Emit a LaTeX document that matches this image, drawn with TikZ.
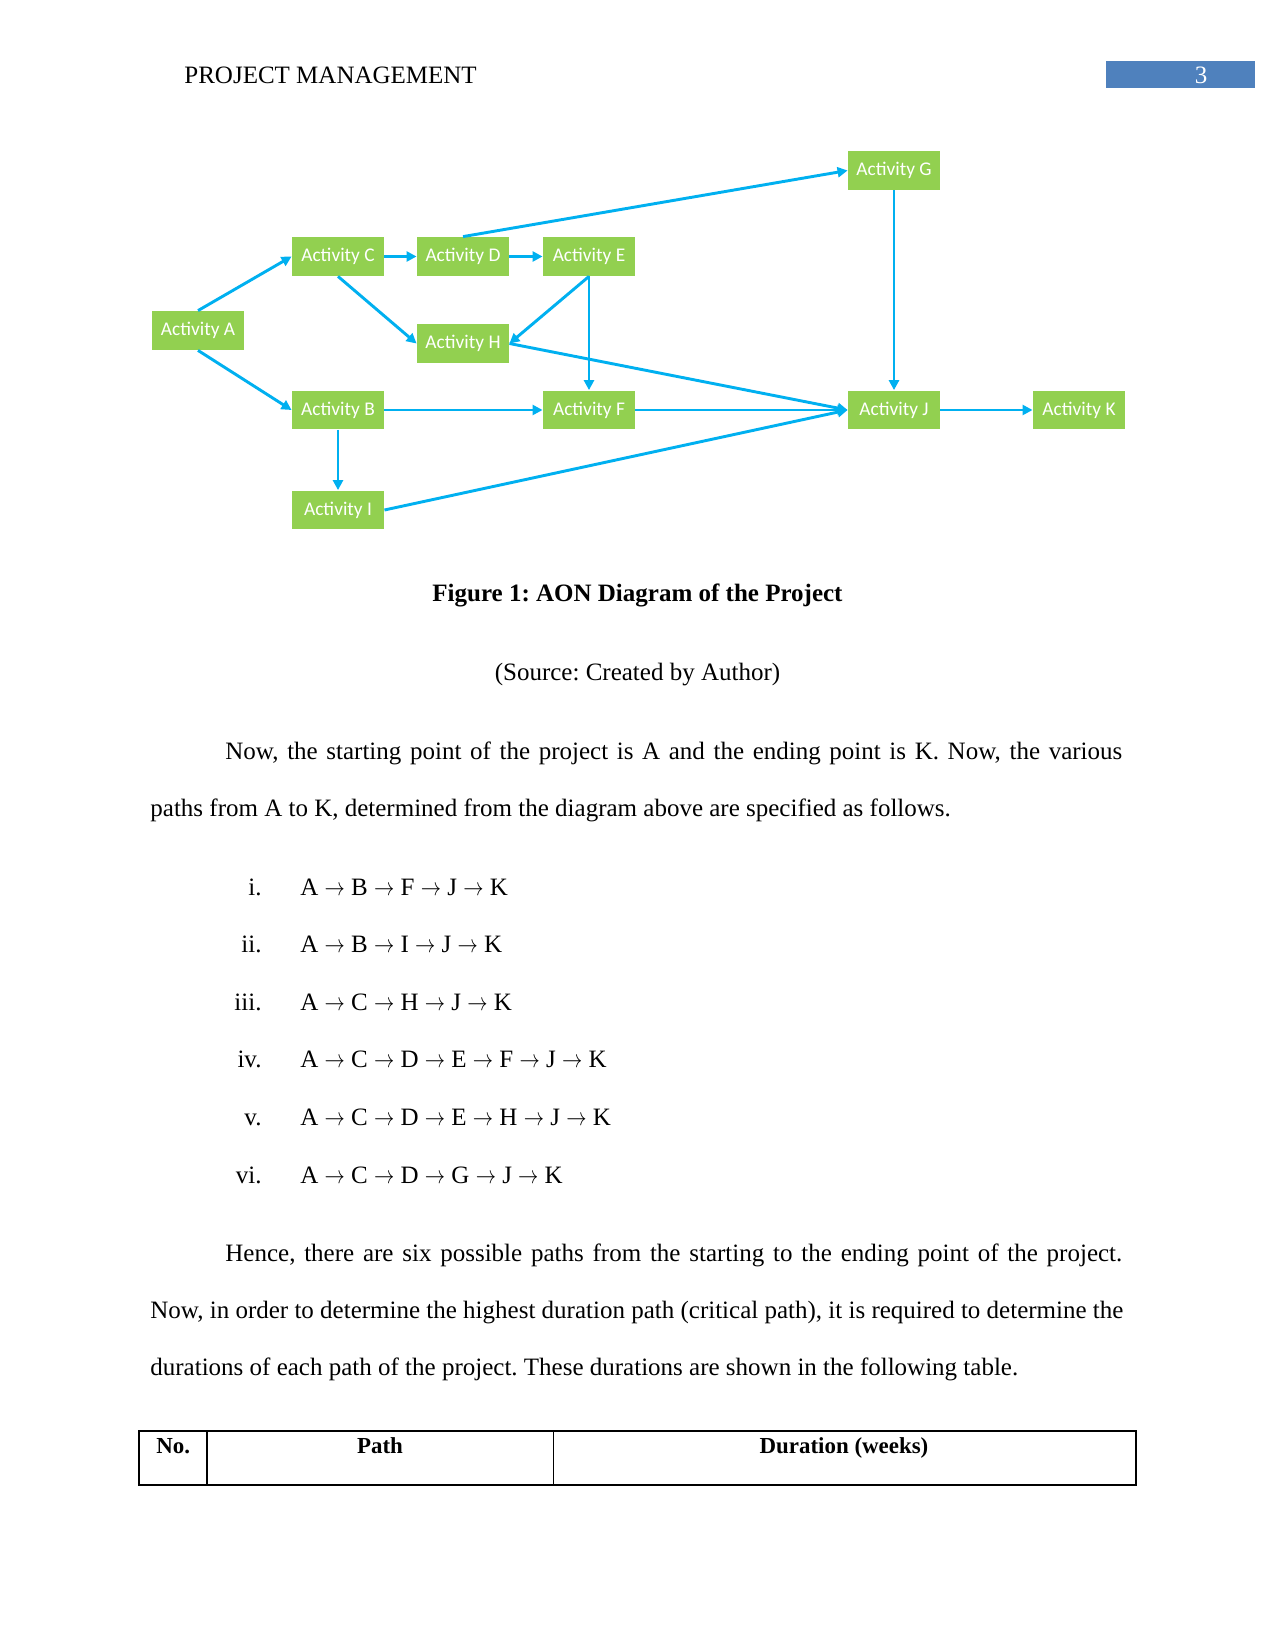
\documentclass[tikz,border=0pt]{standalone}
\usepackage{graphicx}
\usepackage{fontspec}
\setmainfont{Liberation Serif}
\newfontfamily\nodefont{Carlito}
\usetikzlibrary{arrows.meta}
\definecolor{actgreen}{HTML}{92D050}
\definecolor{arrowblue}{HTML}{00B0F0}
\definecolor{headerblue}{HTML}{4F81BD}
\newcommand{\parr}{\scalebox{0.81}[1]{$\rightarrow$}}
\frenchspacing
\begin{document}
\begin{tikzpicture}[x=0.48pt,y=-0.48pt,
  act/.style={fill=actgreen, draw=none, minimum width=44.2pt, minimum height=18.7pt, inner sep=0pt,
    font=\nodefont\fontsize{9.3}{11}\selectfont, text=white},
  conn/.style={draw=arrowblue, line width=1.4pt, -{Triangle[length=4.8pt,width=4.8pt]}},
  txt/.style={anchor=base west, inner sep=0pt, font=\fontsize{12}{14}\selectfont},
  lbl/.style={anchor=base east, inner sep=0pt, font=\fontsize{12}{14}\selectfont},
  ctxt/.style={anchor=base, inner sep=0pt, font=\fontsize{12}{14}\selectfont},
  thd/.style={anchor=base, inner sep=0pt, font=\fontsize{11}{13}\selectfont\bfseries}]
\useasboundingbox (0,0) rectangle (1275,1651);
\fill[white] (0,0) rectangle (1275,1651);

% header
\node[txt] (hdr) at (184,84) {PROJECT MANAGEMENT};
\fill[headerblue] (1105.5,61) rectangle (1255,88.5);
\node[ctxt, text=white] (pg) at (1201,84) {3};

% activity nodes
\node[act] (A) at (198,330.5) {Activity A};
\node[act] (C) at (338,256.5) {Activity C};
\node[act] (D) at (463,256.5) {Activity D};
\node[act] (E) at (589,256.5) {Activity E};
\node[act] (H) at (463,343.5) {Activity H};
\node[act] (B) at (338,410) {Activity B};
\node[act] (F) at (589,410) {Activity F};
\node[act] (I) at (338,510) {Activity I};
\node[act] (G) at (894,170.5) {Activity G};
\node[act] (J) at (894,410) {Activity J};
\node[act] (K) at (1079,410) {Activity K};

% connectors
\draw[conn] (A.north) -- (C.west);
\draw[conn] (A.south) -- (B.west);
\draw[conn] (C.east) -- (D.west);
\draw[conn] (D.east) -- (E.west);
\draw[conn] (C.south) -- (H.west);
\draw[conn] (E.south) -- (H.east);
\draw[conn] (E.south) -- (F.north);
\draw[conn] (D.north) -- (G.west);
\draw[conn] (H.east) -- (J.west);
\draw[conn] (B.east) -- (F.west);
\draw[conn] (F.east) -- (J.west);
\draw[conn] (I.east) -- (J.west);
\draw[conn] (B.south) -- (I.north);
\draw[conn] (G.south) -- (J.north);
\draw[conn] (J.east) -- (K.west);

% caption
\node[ctxt, font=\fontsize{12}{14}\selectfont\bfseries] (cap) at (637.5,601) {Figure 1: AON Diagram of the Project};
\node[ctxt] (src) at (637.5,680) {(Source: Created by Author)};

% paragraph 1
\node[txt] (p1a) at (225,759) {\makebox[430.5pt][s]{Now, the starting point of the project is A and the ending point is K. Now, the various}};
\node[txt] (p1b) at (150,816) {paths from A to K, determined from the diagram above are specified as follows.};

% list
\node[lbl] (l1) at (262,895) {i.};
\node[txt] (t1) at (300,895) {A \parr{} B \parr{} F \parr{} J \parr{} K};
\node[lbl] (l2) at (262,952.5) {ii.};
\node[txt] (t2) at (300,952.5) {A \parr{} B \parr{} I \parr{} J \parr{} K};
\node[lbl] (l3) at (262,1010) {iii.};
\node[txt] (t3) at (300,1010) {A \parr{} C \parr{} H \parr{} J \parr{} K};
\node[lbl] (l4) at (262,1067.5) {iv.};
\node[txt] (t4) at (300,1067.5) {A \parr{} C \parr{} D \parr{} E \parr{} F \parr{} J \parr{} K};
\node[lbl] (l5) at (262,1125.5) {v.};
\node[txt] (t5) at (300,1125.5) {A \parr{} C \parr{} D \parr{} E \parr{} H \parr{} J \parr{} K};
\node[lbl] (l6) at (262,1183) {vi.};
\node[txt] (t6) at (300,1183) {A \parr{} C \parr{} D \parr{} G \parr{} J \parr{} K};

% paragraph 2
\node[txt] (p2a) at (225,1261) {\makebox[430.5pt][s]{Hence, there are six possible paths from the starting to the ending point of the project.}};
\node[txt] (p2b) at (150,1318) {\makebox[467pt][s]{Now, in order to determine the highest duration path (critical path), it is required to determine the}};
\node[txt] (p2c) at (150,1375.5) {durations of each path of the project. These durations are shown in the following table.};

% table
\draw[line width=0.7pt] (139,1431) rectangle (1136,1485);
\draw[line width=0.7pt] (207,1431) -- (207,1485);
\draw[line width=0.7pt] (553.5,1431) -- (553.5,1485);
\node[thd, anchor=base west] (th1) at (156,1453) {No.};
\node[thd] (th2) at (380,1453) {Path};
\node[thd] (th3) at (844,1453) {Duration (weeks)};
\end{tikzpicture}
\end{document}
